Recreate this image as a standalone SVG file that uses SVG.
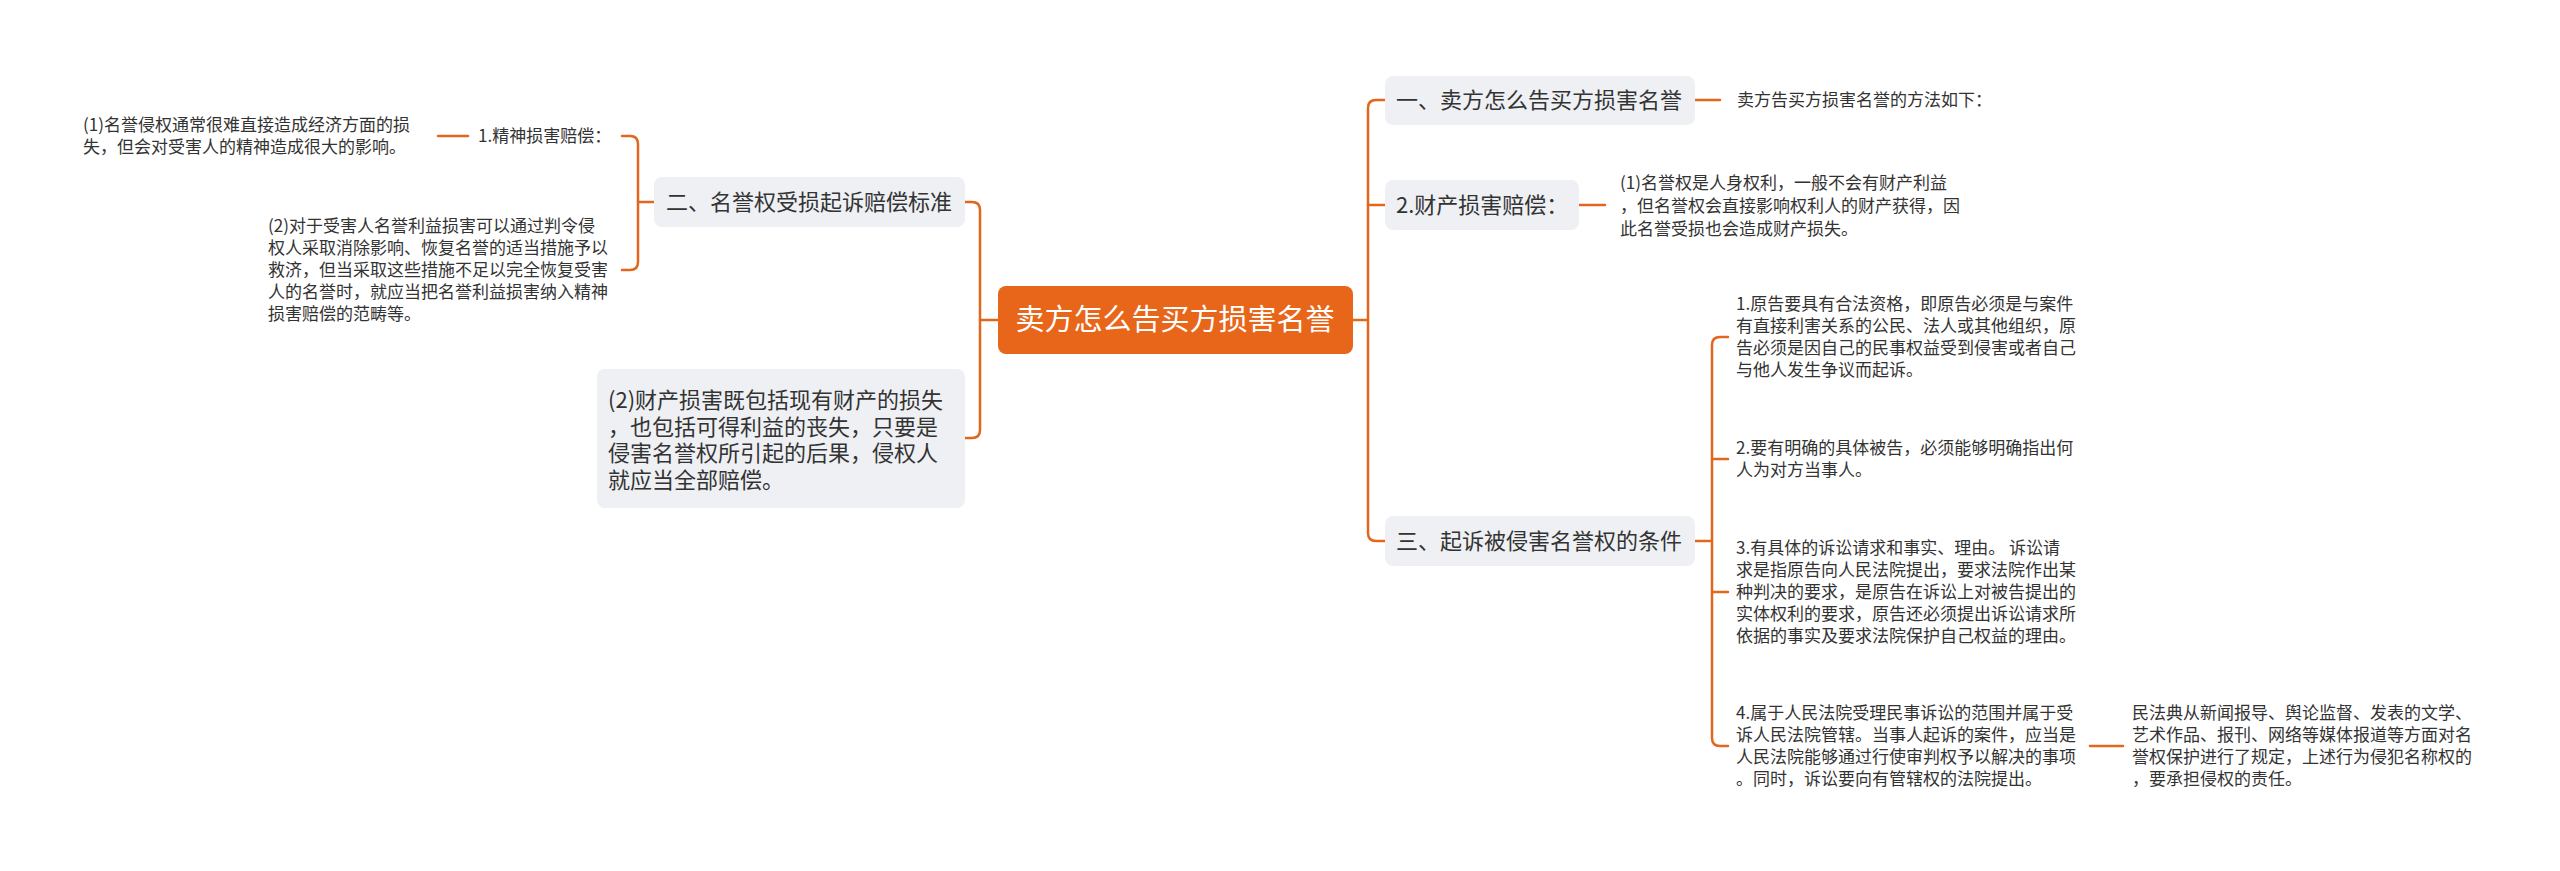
<svg xmlns="http://www.w3.org/2000/svg" width="2560" height="871" viewBox="0 0 2560 871">
<style>
text{font-family:"Noto Sans CJK SC","Noto Sans",sans-serif;fill:#333333}
.t17{font-size:17px}
.t22{font-size:22px}
.root{font-size:29px;fill:#ffffff}
.box{fill:#EEF0F3}
.rootbox{fill:#E8661A}
.ln{fill:none;stroke:#E3661E;stroke-width:2.5;stroke-linecap:round}
</style>
<rect width="2560" height="871" fill="#ffffff"/>
<g id="connectors">
<path class="ln" d="M998 320H980"/>
<path class="ln" d="M965 202H972Q980 202 980 210V430Q980 438 972 438H965"/>
<path class="ln" d="M654 202H638"/>
<path class="ln" d="M622 136H630Q638 136 638 144V262Q638 270 630 270H622"/>
<path class="ln" d="M438 136H468"/>
<path class="ln" d="M1353 320H1368"/>
<path class="ln" d="M1385 100H1376Q1368 100 1368 108V533Q1368 541 1376 541H1385"/>
<path class="ln" d="M1368 205H1385"/>
<path class="ln" d="M1695 100H1720"/>
<path class="ln" d="M1579 205H1605"/>
<path class="ln" d="M1695 541H1712"/>
<path class="ln" d="M1728 337H1720Q1712 337 1712 345V738Q1712 746 1720 746H1728"/>
<path class="ln" d="M1712 459H1728"/>
<path class="ln" d="M1712 592H1728"/>
<path class="ln" d="M2090 746H2123"/>
</g>
<g id="root">
<rect class="rootbox" x="998" y="286" width="355" height="68" rx="8"/>
<text class="root" x="1175" y="330" text-anchor="middle">卖方怎么告买方损害名誉</text>
</g>
<g id="n-left-2">
<rect class="box" x="654" y="177" width="311" height="50" rx="8"/>
<text class="t22" x="666" y="210">二、名誉权受损起诉赔偿标准</text>
</g>
<g id="n-left-jingshen">
<text class="t17" x="478" y="142">1.精神损害赔偿：</text>
</g>
<g id="n-left-a">
<text class="t17" x="83"><tspan x="83" y="131">(1)名誉侵权通常很难直接造成经济方面的损</tspan><tspan x="83" y="153">失，但会对受害人的精神造成很大的影响。</tspan></text>
</g>
<g id="n-left-b">
<text class="t17"><tspan x="268" y="232">(2)对于受害人名誉利益损害可以通过判令侵</tspan><tspan x="268" y="254">权人采取消除影响、恢复名誉的适当措施予以</tspan><tspan x="268" y="276">救济，但当采取这些措施不足以完全恢复受害</tspan><tspan x="268" y="298">人的名誉时，就应当把名誉利益损害纳入精神</tspan><tspan x="268" y="320">损害赔偿的范畴等。</tspan></text>
</g>
<g id="n-left-caichan">
<rect class="box" x="597" y="369" width="368" height="139" rx="8"/>
<text class="t22"><tspan x="608" y="408">(2)财产损害既包括现有财产的损失</tspan><tspan x="608" y="435">，也包括可得利益的丧失，只要是</tspan><tspan x="608" y="461">侵害名誉权所引起的后果，侵权人</tspan><tspan x="608" y="488">就应当全部赔偿。</tspan></text>
</g>
<g id="n-right-1">
<rect class="box" x="1385" y="76" width="310" height="49" rx="8"/>
<text class="t22" x="1396" y="108">一、卖方怎么告买方损害名誉</text>
</g>
<g id="n-right-1a">
<text class="t17" x="1737" y="106">卖方告买方损害名誉的方法如下：</text>
</g>
<g id="n-right-2">
<rect class="box" x="1385" y="180" width="194" height="50" rx="8"/>
<text class="t22" x="1396" y="213">2.财产损害赔偿：</text>
</g>
<g id="n-right-2a">
<text class="t17"><tspan x="1620" y="189">(1)名誉权是人身权利，一般不会有财产利益</tspan><tspan x="1620" y="212">，但名誉权会直接影响权利人的财产获得，因</tspan><tspan x="1620" y="235">此名誉受损也会造成财产损失。</tspan></text>
</g>
<g id="n-right-3">
<rect class="box" x="1385" y="516" width="310" height="50" rx="8"/>
<text class="t22" x="1396" y="549">三、起诉被侵害名誉权的条件</text>
</g>
<g id="n-right-3-1">
<text class="t17"><tspan x="1736" y="310">1.原告要具有合法资格，即原告必须是与案件</tspan><tspan x="1736" y="332">有直接利害关系的公民、法人或其他组织，原</tspan><tspan x="1736" y="354">告必须是因自己的民事权益受到侵害或者自己</tspan><tspan x="1736" y="376">与他人发生争议而起诉。</tspan></text>
</g>
<g id="n-right-3-2">
<text class="t17"><tspan x="1736" y="454">2.要有明确的具体被告，必须能够明确指出何</tspan><tspan x="1736" y="476">人为对方当事人。</tspan></text>
</g>
<g id="n-right-3-3">
<text class="t17"><tspan x="1736" y="554">3.有具体的诉讼请求和事实、理由。 诉讼请</tspan><tspan x="1736" y="576">求是指原告向人民法院提出，要求法院作出某</tspan><tspan x="1736" y="598">种判决的要求，是原告在诉讼上对被告提出的</tspan><tspan x="1736" y="620">实体权利的要求，原告还必须提出诉讼请求所</tspan><tspan x="1736" y="642">依据的事实及要求法院保护自己权益的理由。</tspan></text>
</g>
<g id="n-right-3-4">
<text class="t17"><tspan x="1736" y="719">4.属于人民法院受理民事诉讼的范围并属于受</tspan><tspan x="1736" y="741">诉人民法院管辖。当事人起诉的案件，应当是</tspan><tspan x="1736" y="763">人民法院能够通过行使审判权予以解决的事项</tspan><tspan x="1736" y="785">。同时，诉讼要向有管辖权的法院提出。</tspan></text>
</g>
<g id="n-right-3-4a">
<text class="t17"><tspan x="2132" y="719">民法典从新闻报导、舆论监督、发表的文学、</tspan><tspan x="2132" y="741">艺术作品、报刊、网络等媒体报道等方面对名</tspan><tspan x="2132" y="763">誉权保护进行了规定，上述行为侵犯名称权的</tspan><tspan x="2132" y="785">，要承担侵权的责任。</tspan></text>
</g>
</svg>
